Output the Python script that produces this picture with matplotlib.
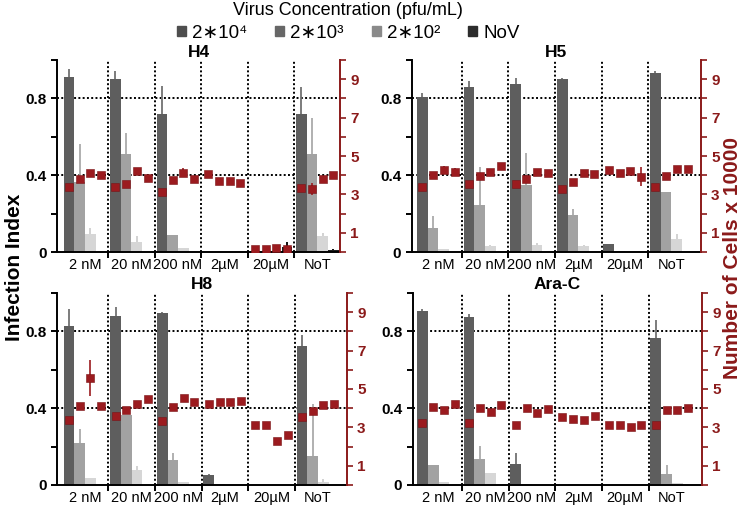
import matplotlib
matplotlib.use('Agg')
import matplotlib.pyplot as plt
import matplotlib.patches as mpatches
import numpy as np

plt.rcParams['font.family'] = ['Liberation Sans', 'DejaVu Sans']

GROUPS = ['2 nM', '20 nM', '200 nM', '2µM', '20µM', 'NoT']
SERIES = ['2∗10⁴', '2∗10³', '2∗10²', 'NoV']

# infection index, rows = treatment group, cols = virus concentration
H4_INF = [[0.91, 0.367, 0.092, 0], [0.90, 0.51, 0.052, 0], [0.72, 0.087, 0.019, 0],
          [0, 0, 0, 0], [0, 0, 0, 0.028], [0.72, 0.513, 0.083, 0.01]]
H4_INF_ERR = [[0.043, 0.196, 0.035, 0], [0.044, 0.11, 0.031, 0], [0.143, 0, 0, 0],
              [0, 0, 0, 0], [0, 0, 0, 0.026], [0.137, 0.187, 0.017, 0.006]]
H4_CELLS = [[3.40, 3.81, 4.10, 4.03], [3.40, 3.53, 4.22, 3.88], [3.12, 3.76, 4.14, 3.81],
            [4.07, 3.71, 3.71, 3.57], [0.17, 0.14, 0.21, 0.17], [3.33, 3.28, 3.81, 4.00]]
H4_CELLS_ERR = [[0.1, 0.15, 0.1, 0.05], [0.05, 0.1, 0.15, 0.05], [0.05, 0.15, 0.25, 0.1],
                [0.05, 0.05, 0.05, 0.05], [0.05, 0.05, 0.05, 0.05], [0.1, 0.3, 0.1, 0.05]]

H5_INF = [[0.807, 0.125, 0.014, 0], [0.857, 0.245, 0.033, 0], [0.877, 0.35, 0.035, 0],
          [0.903, 0.193, 0.031, 0], [0.04, 0.005, 0, 0], [0.932, 0.31, 0.066, 0]]
H5_INF_ERR = [[0.021, 0.063, 0.003, 0], [0.032, 0.20, 0.002, 0], [0.029, 0.165, 0.01, 0],
              [0.005, 0.03, 0.004, 0], [0, 0, 0, 0], [0.011, 0, 0.028, 0]]
H5_CELLS = [[3.36, 4.02, 4.26, 4.16], [3.52, 3.97, 4.17, 4.47], [3.52, 3.79, 4.16, 4.09],
            [3.26, 3.67, 4.10, 4.05], [4.29, 4.14, 4.22, 3.93], [3.36, 3.97, 4.31, 4.31]]
H5_CELLS_ERR = [[0.05, 0.15, 0.2, 0.2], [0.05, 0.1, 0.05, 0.05], [0.05, 0.2, 0.05, 0.05],
                [0.05, 0.1, 0.05, 0.15], [0.05, 0.05, 0.1, 0.5], [0.05, 0.05, 0.05, 0.05]]

H8_INF = [[0.83, 0.219, 0.037, 0], [0.878, 0.363, 0.08, 0], [0.897, 0.132, 0.014, 0],
          [0.052, 0.007, 0, 0], [0, 0, 0, 0], [0.723, 0.153, 0.016, 0]]
H8_INF_ERR = [[0.085, 0.075, 0, 0], [0.051, 0, 0.017, 0], [0.003, 0.037, 0, 0],
              [0.007, 0, 0, 0], [0, 0, 0, 0], [0.056, 0.271, 0.014, 0]]
H8_CELLS = [[3.38, 4.13, 5.56, 4.10], [3.59, 3.90, 4.22, 4.48], [3.35, 4.07, 4.55, 4.32],
            [4.22, 4.30, 4.30, 4.37], [3.10, 3.15, 2.31, 2.61], [3.56, 3.85, 4.18, 4.22]]
H8_CELLS_ERR = [[0.05, 0.1, 0.95, 0.05], [0.05, 0.1, 0.05, 0.05], [0.05, 0.1, 0.05, 0.05],
                [0.05, 0.05, 0.05, 0.05], [0.05, 0.05, 0.05, 0.05], [0.05, 0.15, 0.05, 0.05]]

ARAC_INF = [[0.904, 0.106, 0.014, 0], [0.873, 0.137, 0.061, 0], [0.108, 0.005, 0, 0],
            [0, 0.003, 0, 0], [0, 0, 0, 0], [0.767, 0.057, 0.01, 0]]
ARAC_INF_ERR = [[0.011, 0, 0, 0], [0.019, 0.065, 0, 0], [0.059, 0, 0, 0],
                [0, 0, 0, 0], [0, 0, 0, 0], [0.093, 0.047, 0, 0]]
ARAC_CELLS = [[3.25, 4.05, 3.93, 4.24], [3.22, 4.02, 3.82, 4.19], [3.12, 4.00, 3.76, 3.97],
              [3.53, 3.43, 3.41, 3.59], [3.12, 3.15, 3.00, 3.15], [3.12, 3.93, 3.93, 4.03]]
ARAC_CELLS_ERR = [[0.05, 0.05, 0.05, 0.05], [0.05, 0.05, 0.1, 0.05], [0.05, 0.05, 0.1, 0.05],
                  [0.05, 0.05, 0.05, 0.05], [0.05, 0.05, 0.05, 0.05], [0.05, 0.05, 0.05, 0.05]]

BAR_COLORS = ['#5e5e5e', '#a2a2a2', '#d6d6d6', '#1e1e1e']
ERR_COLORS = ['#727272', '#aaaaaa', '#cfcfcf', '#000000']
LEGEND_COLORS = ['#4e4e4e', '#676767', '#8a8a8a', '#2c2c2c']
RED = '#9b1b1f'
AXRED = '#8b1a1a'

G = 4.35          # group spacing (bar widths)
OFF = 0.175       # gap before first bar of a group
DOT = (0, (1, 1.2))


def draw_panel(rect, title, inf, inf_err, cells, cells_err, xlim, title_pad):
    ax = fig.add_axes(rect)
    inf = np.array(inf)
    inf_err = np.array(inf_err)
    cells = np.array(cells)
    cells_err = np.array(cells_err)
    ng = inf.shape[0]
    gx = np.arange(ng) * G

    # dotted guides, behind bars
    for y in (0.4, 0.8):
        ax.axhline(y, color='k', lw=1.4, ls=DOT, zorder=1)
    for s in gx[1:]:
        ax.axvline(s, color='k', lw=1.4, ls=DOT, zorder=1)

    for j in range(4):
        xs = gx + OFF + 0.5 + j
        ax.bar(xs, inf[:, j], width=1.0, color=BAR_COLORS[j], zorder=2)
        m = inf_err[:, j] > 0
        ax.errorbar(xs[m], inf[m, j], yerr=[np.zeros(m.sum()), inf_err[m, j]],
                    fmt='none', ecolor=ERR_COLORS[j], elinewidth=1.3, capsize=0, zorder=2.5)

    ax.set_xlim(*xlim)
    ax.set_ylim(0, 1.0)
    ax.set_yticks(np.arange(0, 1.01, 0.2))
    ax.set_yticklabels(['0', '', '0.4', '', '0.8', ''], fontweight='bold', fontsize=11)
    ax.set_xticks(gx[1:])
    ax.set_xticklabels([])
    ax.set_xticks(gx + OFF + 2, minor=True)
    ax.set_xticklabels(GROUPS, minor=True, fontsize=10.5)
    ax.tick_params(axis='x', which='minor', length=0, pad=4)
    ax.tick_params(axis='both', which='major', length=4, width=1.4, direction='out')
    for side in ('top', 'right'):
        ax.spines[side].set_visible(False)
    for side in ('left', 'bottom'):
        ax.spines[side].set_linewidth(1.4)
    ax.set_title(title, fontsize=12.5, fontweight='bold', pad=title_pad)

    ax2 = ax.twinx()
    for j in range(4):
        xs = gx + OFF + 0.5 + j
        ax2.errorbar(xs, cells[:, j], yerr=cells_err[:, j], fmt='s', color=RED,
                     ms=6, mec='#7a1215', mew=0.4, elinewidth=1.2, capsize=0, zorder=4)
    ax2.set_ylim(0, 10)
    ax2.set_yticks(np.arange(0, 11, 1))
    ax2.set_yticklabels(['' if k % 2 == 0 else str(k) for k in range(11)],
                        fontweight='bold', fontsize=11, color=AXRED)
    ax2.tick_params(axis='y', length=4, width=1.2, color=AXRED, direction='out')
    for side in ('top', 'left', 'bottom'):
        ax2.spines[side].set_visible(False)
    ax2.spines['right'].set_color(AXRED)
    ax2.spines['right'].set_linewidth(1.4)
    return ax, ax2


W, H = 742, 508
fig = plt.figure(figsize=(W / 100, H / 100), dpi=100)


def px_rect(left, right, top, bottom):
    return [left / W, 1 - bottom / H, (right - left) / W, (bottom - top) / H]


draw_panel(px_rect(57, 340, 60, 252), 'H4', H4_INF, H4_INF_ERR, H4_CELLS, H4_CELLS_ERR,
           (-0.45, 26.05), 1.5)
draw_panel(px_rect(411.7, 700.7, 60, 252), 'H5', H5_INF, H5_INF_ERR, H5_CELLS, H5_CELLS_ERR,
           (-0.32, 26.65), 1.5)
draw_panel(px_rect(57, 346.7, 293, 485), 'H8', H8_INF, H8_INF_ERR, H8_CELLS, H8_CELLS_ERR,
           (-0.45, 26.6), 3)
draw_panel(px_rect(412.7, 701.7, 293, 485), 'Ara-C', ARAC_INF, ARAC_INF_ERR, ARAC_CELLS,
           ARAC_CELLS_ERR, (-0.23, 26.7), 3)

fig.text(15 / W, 1 - 267 / H, 'Infection Index', rotation=90, ha='center', va='center',
         fontsize=15, fontweight='bold')
fig.text(733 / W, 1 - 258 / H, 'Number of Cells x 10000', rotation=90, ha='center',
         va='center', fontsize=15, fontweight='bold', color=AXRED)

handles = [mpatches.Patch(color=c) for c in LEGEND_COLORS]
leg = fig.legend(handles, SERIES, loc='upper center', bbox_to_anchor=(348 / W, 1 - 2 / H),
                 ncol=4, frameon=False, fontsize=13.5, title='Virus Concentration (pfu/mL)',
                 title_fontsize=13, handlelength=0.5, handleheight=0.5,
                 handletextpad=0.3, columnspacing=1.5, borderaxespad=0.0, borderpad=0.0,
                 labelspacing=0.3)

fig.savefig('out.png', dpi=100)
